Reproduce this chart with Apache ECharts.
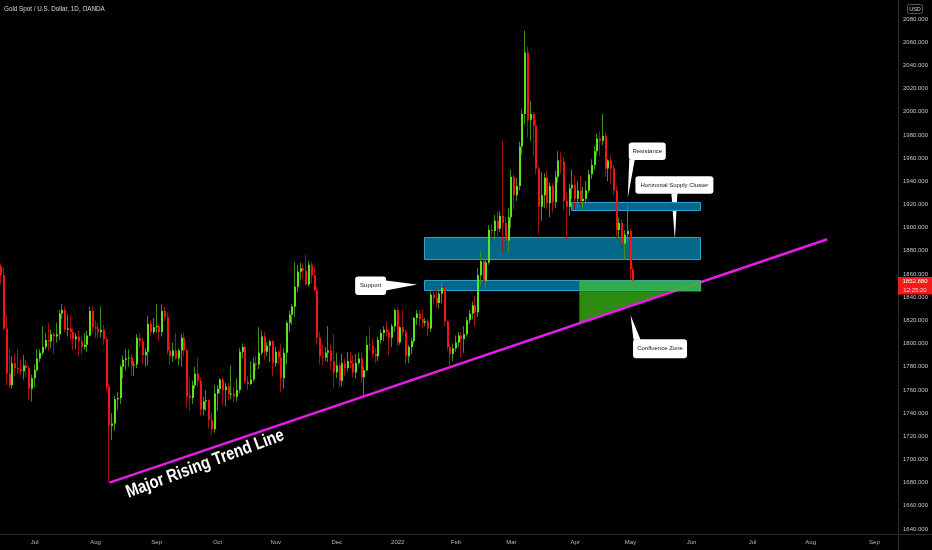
<!DOCTYPE html>
<html>
<head>
<meta charset="utf-8">
<script src="https://cdn.jsdelivr.net/npm/echarts@6/dist/echarts.min.js"></script>
<style>
html,body{margin:0;padding:0;background:#000;}
#main{width:932px;height:550px;}
</style>
</head>
<body>
<div id="main"></div>
<script>
// ---------------- DATA (daily candles, [open, high, low, close]) ----------------
const jun2021 = [
[1867,1869,1851,1859],[1859,1866,1811,1813],[1813,1825,1764,1774],[1774,1795,1761,1764],
[1764,1789,1761,1783],[1783,1791,1772,1779],[1779,1795,1774,1778],[1778,1786,1773,1776],
[1776,1790,1769,1781],[1781,1786,1771,1779],[1779,1781,1751,1761],[1761,1773,1750,1770]];
const jul2021 = [
[1770,1782,1762,1777],[1777,1795,1776,1787],[1787,1795,1784,1792],[1792,1815,1790,1797],
[1797,1809,1795,1803],[1803,1818,1794,1802],[1802,1812,1796,1808],[1808,1810,1791,1806],
[1806,1818,1801,1808],[1808,1829,1803,1826],[1826,1834,1821,1829],[1829,1832,1810,1812],
[1812,1825,1806,1813],[1813,1824,1803,1810],[1810,1813,1794,1804],[1804,1809,1795,1806],
[1806,1811,1789,1802],[1802,1806,1791,1797],[1797,1809,1795,1799],[1799,1811,1793,1807],
[1807,1832,1806,1828],[1828,1832,1810,1814]];
const aug2021 = [
[1814,1820,1805,1813],[1813,1818,1805,1810],[1810,1832,1805,1812],[1812,1816,1799,1804],
[1804,1806,1759,1763],[1763,1765,1680,1729],[1729,1740,1717,1731],[1731,1755,1725,1752],
[1752,1758,1743,1753],[1753,1782,1748,1780],[1780,1790,1770,1786],[1786,1795,1777,1787],
[1787,1795,1780,1788],[1788,1791,1772,1781],[1781,1785,1772,1782],[1782,1808,1779,1805],
[1805,1809,1797,1802],[1802,1805,1782,1790],[1790,1796,1780,1793],[1793,1824,1781,1817],
[1817,1820,1807,1810],[1810,1822,1808,1814]];
const sep2021 = [
[1814,1834,1809,1815],[1815,1817,1802,1810],[1810,1834,1806,1828],[1828,1832,1819,1823],
[1823,1827,1791,1794],[1794,1801,1782,1789],[1789,1801,1784,1794],[1794,1809,1786,1787],
[1787,1796,1781,1794],[1794,1808,1780,1805],[1805,1809,1789,1794],[1794,1796,1745,1754],
[1755,1770,1742,1753],[1753,1768,1748,1764],[1764,1780,1761,1774],[1774,1788,1763,1768],
[1768,1771,1738,1743],[1743,1754,1738,1750],[1750,1760,1742,1751],[1751,1752,1727,1734],
[1734,1740,1721,1726],[1726,1764,1723,1757]];
const oct2021 = [
[1757,1764,1742,1761],[1761,1770,1757,1769],[1769,1771,1747,1760],[1760,1766,1746,1763],
[1763,1766,1751,1756],[1756,1781,1752,1757],[1757,1762,1750,1754],[1754,1770,1750,1760],
[1760,1796,1757,1793],[1793,1800,1787,1797],[1797,1798,1765,1767],[1767,1772,1760,1765],
[1765,1785,1764,1769],[1769,1788,1767,1783],[1783,1789,1777,1782],[1782,1814,1778,1792],
[1792,1811,1790,1806],[1806,1810,1786,1793],[1793,1801,1789,1798],[1798,1803,1784,1802],
[1802,1803,1772,1783]];
const nov2021 = [
[1783,1797,1780,1793],[1793,1794,1782,1788],[1788,1800,1758,1770],[1770,1796,1761,1792],
[1792,1819,1782,1818],[1818,1828,1810,1825],[1825,1834,1816,1832],[1832,1870,1823,1849],
[1849,1868,1844,1862],[1862,1870,1855,1865],[1865,1869,1856,1863],[1863,1877,1850,1851],
[1851,1871,1849,1868],[1868,1870,1852,1859],[1859,1866,1845,1846],[1846,1849,1799,1805],
[1805,1810,1782,1789],[1789,1799,1781,1788],[1788,1797,1785,1792],[1792,1815,1784,1794],
[1794,1799,1778,1785],[1785,1808,1762,1775]];
const dec2021 = [
[1775,1792,1770,1781],[1781,1783,1762,1768],[1768,1791,1763,1783],[1783,1787,1772,1779],
[1779,1793,1776,1785],[1785,1793,1779,1783],[1783,1790,1771,1775],[1775,1791,1770,1783],
[1783,1792,1782,1787],[1787,1792,1766,1771],[1771,1780,1753,1777],[1777,1806,1776,1799],
[1799,1815,1794,1798],[1798,1804,1788,1791],[1791,1796,1783,1789],[1789,1806,1785,1803],
[1803,1812,1800,1809],[1809,1815,1802,1812],[1812,1819,1806,1810],[1810,1812,1790,1805],
[1805,1817,1797,1815],[1815,1830,1810,1829]];
const jan2022 = [
[1829,1831,1798,1801],[1801,1815,1799,1814],[1814,1829,1807,1810],[1810,1812,1782,1789],
[1789,1799,1783,1797],[1797,1805,1791,1802],[1802,1823,1800,1822],[1822,1829,1816,1826],
[1826,1829,1815,1821],[1821,1830,1813,1818],[1818,1822,1815,1819],[1819,1821,1806,1813],
[1813,1845,1810,1842],[1842,1848,1834,1839],[1839,1847,1831,1835],[1835,1845,1830,1843],
[1843,1853,1835,1848],[1848,1850,1815,1819],[1819,1820,1794,1797],[1797,1800,1780,1791],
[1791,1800,1785,1796]];
const feb2022 = [
[1796,1807,1793,1801],[1801,1810,1797,1807],[1807,1810,1788,1804],[1804,1815,1792,1808],
[1808,1823,1806,1820],[1820,1829,1817,1826],[1826,1836,1821,1833],[1833,1841,1815,1827],
[1827,1865,1823,1859],[1859,1879,1850,1871],[1871,1872,1850,1854],[1854,1873,1847,1870],
[1870,1902,1868,1898],[1898,1903,1887,1897],[1897,1911,1890,1906],[1906,1914,1890,1899],
[1899,1914,1896,1910],[1910,1975,1879,1904],[1904,1909,1880,1889],[1889,1917,1879,1909]];
const mar2022 = [
[1909,1950,1900,1944],[1944,1946,1916,1928],[1928,1943,1923,1936],[1936,1974,1932,1970],
[1970,2002,1963,1998],[1998,2070,1989,2051],[2051,2056,1978,1993],[1993,2009,1975,1998],
[1998,2000,1962,1988],[1988,1993,1946,1951],[1951,1953,1895,1918],[1918,1948,1906,1928],
[1928,1947,1917,1943],[1943,1949,1916,1921],[1921,1939,1909,1936],[1936,1938,1913,1922],
[1922,1949,1917,1944],[1944,1966,1939,1958],[1958,1965,1947,1957],[1957,1961,1915,1923],
[1923,1930,1890,1918],[1918,1938,1910,1934],[1934,1950,1925,1937]];
const apr2022 = [
[1937,1945,1916,1925],[1925,1940,1916,1932],[1932,1945,1920,1923],[1923,1935,1915,1925],
[1925,1940,1920,1932],[1932,1950,1930,1946],[1946,1959,1942,1954],[1954,1970,1950,1966],
[1966,1981,1962,1977],[1977,1983,1962,1975],[1975,1998,1971,1979],[1979,1982,1944,1951],
[1951,1959,1940,1958],[1958,1962,1938,1951],[1951,1954,1928,1932],[1932,1936,1891,1898],
[1898,1909,1891,1904],[1904,1907,1881,1886],[1886,1898,1872,1894],[1894,1920,1888,1897]];
const may2022 = [
[1897,1899,1855,1864],[1864,1866,1851,1852.88]];

// trading calendar (weekdays, market-closed days removed)
const firstDay = '2021-06-15';
const closedDays = ['2021-12-24','2022-04-15'];
const categoryCount = 324;
const monthNames = ['Jan','Feb','Mar','Apr','May','Jun','Jul','Aug','Sep','Oct','Nov','Dec'];

// price axis ticks
const priceMin = 1640, priceMax = 2080, priceStep = 20;

// annotations (data space)
const blueZones = [
  {start:'2022-01-17', end:'2022-06-06', top:1891.5, bottom:1872.0},
  {start:'2022-01-17', end:'2022-06-06', top:1854.5, bottom:1845.0},
  {start:'2022-03-31', end:'2022-06-06', top:1922.5, bottom:1914.3}
];
const confluence = {start:'2022-04-05', end:'2022-06-06', top:1854.5, bottom:1845.0};
const trendLine = [['2021-08-09',1680],['2022-08-09',1890]];
const trendLabel = {text:'Major Rising Trend Line', date:'2021-09-23'};
const callouts = [
  {text:'Support', date:'2022-01-12', price:1851},
  {text:'Resistance', date:'2022-04-29', price:1925.5},
  {text:'Horizontal Supply Cluster', date:'2022-05-24', price:1889.5},
  {text:'Confluence Zone', date:'2022-05-02', price:1824.5}
];
const titleText = 'Gold Spot / U.S. Dollar, 1D, OANDA';
const currencyText = 'USD';
const countdownText = '12:25:20';

// ---------------- BUILD ----------------
function buildCategories(){
  const out = [];
  const p = firstDay.split('-').map(Number);
  let t = Date.UTC(p[0], p[1]-1, p[2]);
  while (out.length < categoryCount){
    const d = new Date(t);
    const wd = d.getUTCDay();
    const s = d.toISOString().slice(0,10);
    if (wd !== 0 && wd !== 6 && closedDays.indexOf(s) < 0) out.push(s);
    t += 86400000;
  }
  return out;
}
const categories = buildCategories();
const idxOf = d => categories.indexOf(d);

const candles = [].concat(jun2021, jul2021, aug2021, sep2021, oct2021, nov2021, dec2021,
  jan2022, feb2022, mar2022, apr2022, may2022);
const candleData = candles.map((r,i) => [i, r[0], r[1], r[2], r[3]]);
const lastIdx = candles.length - 1;
const lastPrice = candles[lastIdx][3];

const trendIdx = [idxOf(trendLine[0][0]), idxOf(trendLine[1][0])];

const UP = '#58e61a', DOWN = '#f51414', UP_WICK = '#3f901a', DOWN_WICK = '#a31212';
const FONT = "'Liberation Sans', Arial, sans-serif";

function renderCandle(params, api){
  const i = api.value(0), o = api.value(1), h = api.value(2), l = api.value(3), c = api.value(4);
  const pO = api.coord([i,o]), pC = api.coord([i,c]), pH = api.coord([i,h]), pL = api.coord([i,l]);
  const up = c >= o;
  const left = Math.round(pO[0] - 1);
  let top = Math.min(pO[1], pC[1]), bot = Math.max(pO[1], pC[1]);
  if (bot - top < 1) bot = top + 1;
  return {type:'group', children:[
    {type:'rect', shape:{x:left, y:pH[1], width:1, height:pL[1]-pH[1]}, style:{fill: up ? UP_WICK : DOWN_WICK}},
    {type:'rect', shape:{x:left, y:top, width:2, height:bot-top}, style:{fill: up ? UP : DOWN}}
  ]};
}

function renderZone(params, api){
  const s = api.value(0), e = api.value(1);
  const w = api.size([1,0])[0];
  const p1 = api.coord([s, api.value(2)]), p2 = api.coord([e, api.value(3)]);
  const x0 = Math.round(p1[0] - w/2), x1 = Math.round(p2[0] + w/2);
  const y0 = Math.round(p1[1]), y1 = Math.round(p2[1]);
  return {type:'rect', shape:{x:x0+0.5, y:y0+0.5, width:x1-x0-1, height:y1-y0-1},
    style:{fill:'#05678a', stroke:'#2aa3d2', lineWidth:1}};
}

function trendGeom(api){
  const t0 = api.coord([trendIdx[0], trendLine[0][1]]);
  const t1 = api.coord([trendIdx[1], trendLine[1][1]]);
  return {
    yAt: x => t0[1] + (x - t0[0])/(t1[0]-t0[0])*(t1[1]-t0[1]),
    xAt: y => t0[0] + (y - t0[1])/(t1[1]-t0[1])*(t1[0]-t0[0])
  };
}

function renderShade(params, api){
  const s = api.value(0);
  const w = api.size([1,0])[0];
  const pB = api.coord([s, api.value(3)]);
  const x0 = pB[0] - w/2, yb = pB[1];
  const g = trendGeom(api);
  return {type:'polygon', shape:{points:[[x0,yb],[x0,g.yAt(x0)],[g.xAt(yb),yb]]}, style:{fill:'#2d8b12'}};
}

function renderBand(params, api){
  const s = api.value(0), e = api.value(1);
  const w = api.size([1,0])[0];
  const p1 = api.coord([s, api.value(2)]), p2 = api.coord([e, api.value(3)]);
  const x0 = p1[0] - w/2, x1 = p2[0] + w/2;
  return {type:'rect', shape:{x:x0, y:p1[1], width:x1-x0, height:p2[1]-p1[1]}, style:{fill:'rgba(58,182,70,0.86)'}};
}

const chart = echarts.init(document.getElementById('main'), null, {renderer:'canvas'});

chart.setOption({
  backgroundColor:'#000000',
  animation:false,
  grid:{left:0, right:34, top:19, bottom:21, containLabel:false},
  xAxis:{
    type:'category', data:categories, boundaryGap:true,
    axisLine:{show:false}, axisTick:{show:false}, splitLine:{show:false},
    axisLabel:{
      color:'#b4b7bf', fontSize:6, fontFamily:FONT, margin:10,
      interval:(i, v) => i > 0 && v.slice(0,7) !== categories[i-1].slice(0,7),
      formatter:(v) => { const m = +v.slice(5,7); return m === 1 ? v.slice(0,4) : monthNames[m-1]; }
    }
  },
  yAxis:{
    type:'value', position:'right', min:priceMin, max:priceMax, interval:priceStep,
    axisLine:{show:false}, axisTick:{show:false}, splitLine:{show:false},
    axisLabel:{color:'#c2c5cc', fontSize:6, fontFamily:FONT, margin:5, formatter:v => v.toFixed(3)}
  },
  series:[
    {type:'custom', name:'zones', renderItem:renderZone, silent:true, z:1,
     encode:{x:[0,1], y:[2,3]},
     data: blueZones.map(z => [idxOf(z.start), idxOf(z.end), z.top, z.bottom])},
    {type:'custom', name:'candles', renderItem:renderCandle, silent:true, z:2,
     encode:{x:0, y:[1,2,3,4]}, data:candleData},
    {type:'custom', name:'shade', renderItem:renderShade, silent:true, z:3,
     encode:{x:[0,1], y:[2,3]},
     data:[[idxOf(confluence.start), idxOf(confluence.end), confluence.top, confluence.bottom]]},
    {type:'line', name:'trend', silent:true, z:4, showSymbol:false, symbol:'none',
     lineStyle:{color:'#e81ce8', width:2.5}, data:[[trendIdx[0], trendLine[0][1]],[trendIdx[1], trendLine[1][1]]]},
    {type:'custom', name:'band', renderItem:renderBand, silent:true, z:5,
     encode:{x:[0,1], y:[2,3]},
     data:[[idxOf(confluence.start), idxOf(confluence.end), confluence.top, confluence.bottom]]}
  ]
});

// ---------------- OVERLAYS (positioned from data coordinates) ----------------
const px = (date, price) => chart.convertToPixel({gridIndex:0}, [typeof date === 'number' ? date : idxOf(date), price]);

const calloutLayout = {
  'Support':{box:[-62,-8,31,18.5], base:[[-31.5,-4],[-31.5,6]]},
  'Resistance':{box:[1,-55.5,37,17.5], base:[[1.5,-38.5],[7,-38.5]]},
  'Horizontal Supply Cluster':{box:[-39.5,-63.5,78,17.5], base:[[-3.5,-46.5],[2.5,-46.5]]},
  'Confluence Zone':{box:[2.5,24,54,19], base:[[3,24.5],[10,24.5]]}
};

const graphics = [];
const gridRight = 898;
graphics.push({type:'line', shape:{x1:gridRight+0.5, y1:0, x2:gridRight+0.5, y2:550}, style:{stroke:'#2b2b30', lineWidth:1}, z:50});
graphics.push({type:'line', shape:{x1:0, y1:534.5, x2:932, y2:534.5}, style:{stroke:'#2b2b30', lineWidth:1}, z:50});
graphics.push({type:'text', x:4, y:9, z:50, style:{text:titleText, fill:'#d6d8de', fontSize:6.3, fontFamily:FONT,
  align:'left', verticalAlign:'middle', textAlign:'left', textVerticalAlign:'middle'}});
graphics.push({type:'rect', z:50, shape:{x:907.5, y:4.5, width:15, height:9, r:2}, style:{fill:'#000', stroke:'#55585f', lineWidth:1}});
graphics.push({type:'text', x:915, y:9, z:51, style:{text:currencyText, fill:'#d6d8de', fontSize:5.5, fontFamily:FONT,
  align:'center', verticalAlign:'middle', textAlign:'center', textVerticalAlign:'middle'}});

callouts.forEach(c => {
  const p = px(c.date, c.price);
  const L = calloutLayout[c.text];
  graphics.push({type:'group', x:p[0], y:p[1], z:100, children:[
    {type:'polygon', shape:{points:[L.base[0],[0,0],L.base[1]]}, style:{fill:'#ffffff'}},
    {type:'rect', shape:{x:L.box[0], y:L.box[1], width:L.box[2], height:L.box[3], r:3}, style:{fill:'#ffffff'}},
    {type:'text', x:L.box[0]+L.box[2]/2, y:L.box[1]+L.box[3]/2,
     style:{text:c.text, fill:'#131722', fontSize:6, fontFamily:FONT,
       align:'center', verticalAlign:'middle', textAlign:'center', textVerticalAlign:'middle'}}
  ]});
});

// rotated trend label
(function(){
  const p0 = px(trendLine[0][0], trendLine[0][1]);
  const p1 = px(trendLine[1][0], trendLine[1][1]);
  const ang = Math.atan2(p0[1]-p1[1], p1[0]-p0[0]);
  const ax = px(trendLabel.date, trendLine[0][1])[0];
  const ay = p0[1] + (ax - p0[0])/(p1[0]-p0[0])*(p1[1]-p0[1]);
  const off = 13;
  graphics.push({type:'text', z:100, x:ax + off*Math.sin(ang), y:ay + off*Math.cos(ang),
    rotation:ang + 0.03, scaleX:0.82, scaleY:1,
    style:{text:trendLabel.text, fill:'#ffffff', fontSize:18, fontWeight:'bold', fontFamily:FONT,
      align:'center', verticalAlign:'middle', textAlign:'center', textVerticalAlign:'middle'}});
})();

// last price tag
(function(){
  const p = px(lastIdx, lastPrice);
  graphics.push({type:'rect', z:120, shape:{x:gridRight, y:p[1]-5.2, width:34, height:17.5}, style:{fill:'#f21a1a'}});
  graphics.push({type:'text', z:121, x:915, y:p[1]-0.8, style:{text:lastPrice.toFixed(3), fill:'#ffffff', fontSize:6, fontFamily:FONT,
    align:'center', verticalAlign:'middle', textAlign:'center', textVerticalAlign:'middle'}});
  graphics.push({type:'text', z:121, x:915, y:p[1]+7.6, style:{text:countdownText, fill:'#ffd6d6', fontSize:6, fontFamily:FONT,
    align:'center', verticalAlign:'middle', textAlign:'center', textVerticalAlign:'middle'}});
})();

chart.setOption({graphic:{elements:graphics}});
</script>
</body>
</html>
